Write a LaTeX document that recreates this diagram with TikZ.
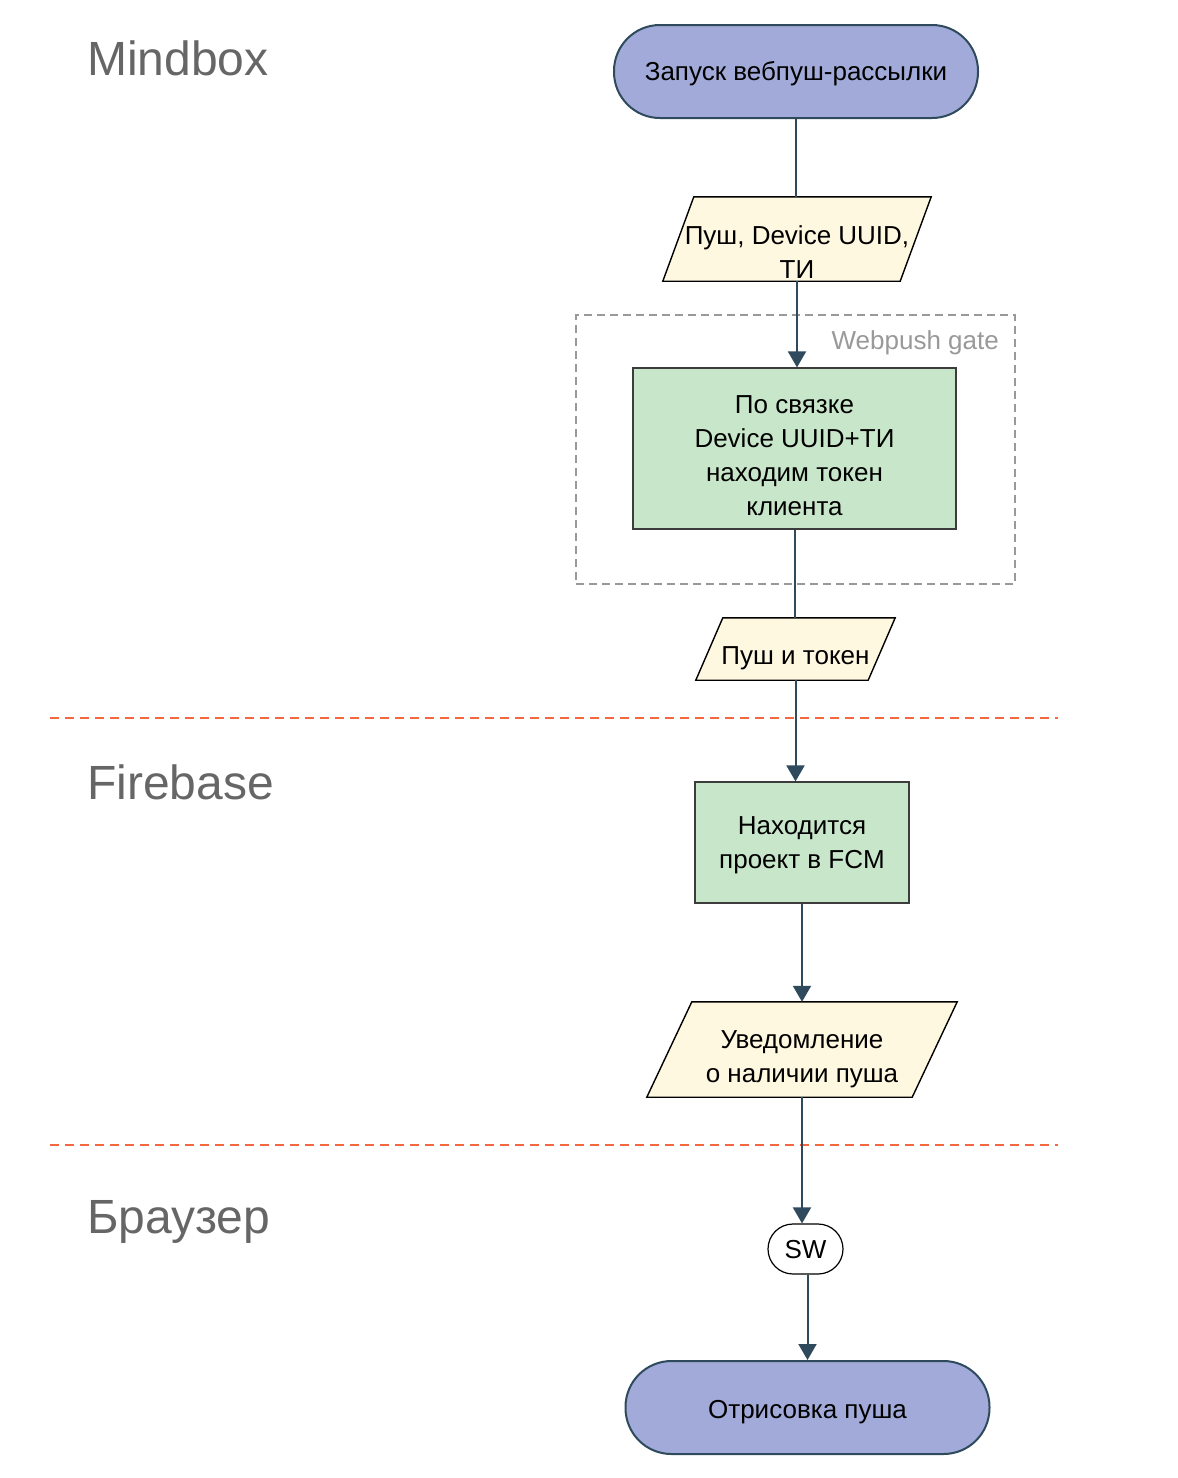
\documentclass[tikz,border=0pt]{standalone}
\usepackage{fontspec}
\setmainfont{Liberation Sans}
\usetikzlibrary{arrows.meta,backgrounds}
\definecolor{termfill}{HTML}{A1AAD8}
\definecolor{conncol}{HTML}{2F4A5C}
\definecolor{parafill}{HTML}{FFF8E0}
\definecolor{greenfill}{HTML}{C8E6C9}
\definecolor{greendraw}{HTML}{3C3C3C}
\definecolor{sepcol}{HTML}{F4683F}
\definecolor{lanecol}{HTML}{666666}
\definecolor{gatecol}{HTML}{999999}
\newcommand\nodetxt[2]{\raisebox{-#1pt}[0pt][0pt]{\begin{tabular}[t]{@{}c@{}}#2\end{tabular}}}
\newcommand\drawpara[2]{\filldraw[parashape] ([xshift=#2pt]#1.north west) -- (#1.north east) -- ([xshift=-#2pt]#1.south east) -- (#1.south west) -- cycle;}
\begin{document}
\begin{tikzpicture}[x=1pt,y=-1pt,
  every node/.style={inner sep=0pt, font=\fontsize{26}{34}\selectfont},
  term/.style={draw=conncol, line width=2pt, fill=termfill, rounded corners=46pt, minimum width=364pt, minimum height=93pt},
  parabox/.style={rectangle, draw=none},
  parashape/.style={fill=parafill, draw=black, line width=1.4pt, line join=miter},
  greenbox/.style={rectangle, fill=greenfill, draw=greendraw, line width=1.2pt},
  swbox/.style={rectangle, fill=white, draw=black, line width=1.2pt, rounded corners=25pt, minimum width=75pt, minimum height=50pt},
  gatebox/.style={rectangle, draw=gatecol, line width=1.8pt, dash pattern=on 8pt off 5pt, minimum width=439pt, minimum height=269pt},
  gatelabel/.style={text=gatecol},
  lane/.style={text=lanecol, font=\fontsize{48}{56}\selectfont},
  conn/.style={draw=conncol, line width=2pt},
  arr/.style={conn, -{Triangle[width=18pt,length=16pt]}},
  sep/.style={draw=sepcol, line width=1.8pt, dash pattern=on 9pt off 6pt}
]
\useasboundingbox (0,0) rectangle (1178,1478);

% lane labels
\node[lane, anchor=base west] (lmb) at (87,75) {Mindbox};
\node[lane, anchor=base west] (lfb) at (87,799) {Firebase};
\node[lane, anchor=base west] (lbr) at (87,1233) {Браузер};

% separators
\draw[sep] (50,718) -- (1058,718);
\draw[sep] (50,1145) -- (1058,1145);

% group
\node[gatebox] (gate) at (795.5,449.5) {};
\node[gatelabel, anchor=base east] (gatelbl) at (999,349) {Webpush gate};

% nodes
\node[term] (start) at (796,71.5) {\nodetxt{9}{Запуск вебпуш-рассылки}};
\node[parabox, minimum width=268pt, minimum height=84pt] (p1) at (797,239) {\nodetxt{5}{Пуш, Device UUID,\\ТИ}};
\node[greenbox, minimum width=323pt, minimum height=161pt] (g1) at (794.5,448.5) {\nodetxt{-35.5}{По связке\\Device UUID+ТИ\\находим токен\\клиента}};
\node[parabox, minimum width=199pt, minimum height=62pt] (p2) at (795.5,649) {\nodetxt{15}{Пуш и токен}};
\node[greenbox, minimum width=214pt, minimum height=121pt] (g2) at (802,842.5) {\nodetxt{-8.5}{Находится\\проект в FCM}};
\node[parabox, minimum width=310pt, minimum height=95pt] (p3) at (802,1049.5) {\nodetxt{-1}{Уведомление\\о наличии пуша}};
\node[swbox] (sw) at (805.5,1249) {\nodetxt{9.3}{SW}};
\node[term] (fin) at (807.5,1407.5) {\nodetxt{10.8}{Отрисовка пуша}};

\begin{pgfonlayer}{background}
\fill[white] (0,0) rectangle (1178,1478);
\drawpara{p1}{31}
\drawpara{p2}{27}
\drawpara{p3}{45}
\end{pgfonlayer}

% connectors
\draw[conn] (start.south) -- (start.south |- p1.north);
\draw[arr] (p1.south) -- (p1.south |- g1.north);
\draw[conn] (g1.south) -- (g1.south |- p2.north);
\draw[arr] (p2.south) -- (p2.south |- g2.north);
\draw[arr] (g2.south) -- (g2.south |- p3.north);
\draw[arr] (p3.south) -- (p3.south |- sw.north);
\draw[arr] (sw.south -| fin.north) -- (fin.north);
\end{tikzpicture}
\end{document}
